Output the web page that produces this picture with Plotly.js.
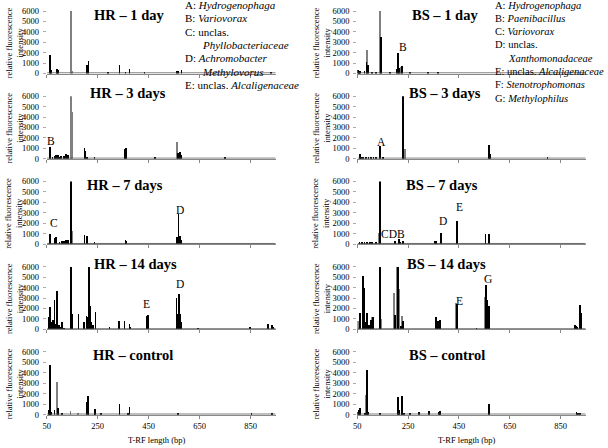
<!DOCTYPE html>
<html><head><meta charset="utf-8">
<script src="https://cdn.plot.ly/plotly-3.0.1.min.js"></script>
<style>html,body{margin:0;padding:0;background:#fff}#chart{width:608px;height:448px}</style>
</head><body><div id="chart"></div>
<script>
// ---------- data (T-RF length in bp, relative fluorescence intensity) ----------
const xTicks = [50, 250, 450, 650, 850];
const yTicks = [0, 1000, 2000, 3000, 4000, 5000, 6000];
const panelTitles = ['HR – 1 day','BS – 1 day','HR – 3 days','BS – 3 days','HR – 7 days','BS – 7 days','HR – 14 days','BS – 14 days','HR – control','BS – control'];
const baselineBp = [52, 948];
const baselineLevel = [60, 60];

const hr1BlackBp = [63, 66, 88, 92, 207.5, 212.7, 290, 335, 358, 374, 433, 558, 564, 578, 930];
const hr1BlackH  = [1750, 300, 480, 300, 800, 1200, 150, 850, 150, 400, 100, 250, 200, 300, 150];
const hr1GrayBp  = [144.5, 147];
const hr1GrayH   = [6000, 200];

const hr3BlackBp = [63, 72, 79, 85, 92, 98.6, 105, 118, 125, 131, 197, 201, 207.5, 236, 357, 361, 473, 564, 571, 577.5, 748];
const hr3BlackH  = [1150, 200, 250, 350, 300, 200, 250, 250, 400, 350, 1000, 700, 200, 100, 900, 1000, 100, 500, 600, 300, 80];
const hr3GrayBp  = [144.5, 148.4, 560.5];
const hr3GrayH   = [6000, 4500, 1550];

const hr7BlackBp = [63, 79, 85.4, 98.6, 110, 118, 125, 131, 144.5, 197, 206, 236, 358.4, 362.3, 560.5, 565.7, 571, 575];
const hr7BlackH  = [900, 500, 600, 200, 250, 300, 350, 400, 6000, 800, 700, 100, 400, 250, 600, 2800, 700, 400];
const hr7GrayBp  = [148.4];
const hr7GrayH   = [1200];

const hr14BlackBp = [59, 63, 66, 75, 79, 83, 88, 96, 102.5, 110, 118, 144.5, 147, 173.4, 194.4, 204.9, 208.8, 214, 218, 223, 230, 240.3, 295.4, 332, 354.5, 374, 378, 442.4, 446.3, 558, 561.8, 568.4, 572.3, 577.5, 643, 846.6, 916, 918.7, 934.5, 938.4];
const hr14BlackH  = [1200, 2200, 700, 900, 2800, 600, 3700, 500, 300, 700, 200, 6000, 1500, 1550, 700, 1300, 1200, 6000, 2300, 700, 500, 1700, 300, 800, 800, 600, 300, 1300, 1400, 3000, 1500, 3400, 1500, 700, 100, 250, 550, 500, 500, 300];
const hr14GrayBp  = [90.7];
const hr14GrayH   = [2800];

const hrCBlackBp = [59, 63, 67, 79, 92, 109, 204.9, 210, 212.7, 236.3, 239, 262.6, 334.8, 367.6, 374, 564, 853, 932];
const hrCBlackH  = [500, 4800, 300, 500, 700, 100, 1200, 1800, 900, 500, 600, 100, 1000, 200, 800, 200, 100, 100];
const hrCGrayBp  = [89.4, 142, 173];
const hrCGrayH   = [3100, 350, 200];

const bs1BlackBp = [54, 58, 63, 80, 87, 93, 110, 126, 143, 179, 205, 211.4, 215, 225.8, 258, 330, 369];
const bs1BlackH  = [300, 250, 200, 200, 1100, 800, 100, 100, 3500, 100, 400, 2000, 500, 700, 100, 150, 100];
const bs1GrayBp  = [90.7, 141.9, 222];
const bs1GrayH   = [2300, 6000, 600];

const bs3BlackBp = [60.5, 67, 75, 85, 95, 105, 115, 126, 141.9, 152.4, 229.8, 570, 572.3, 800];
const bs3BlackH  = [400, 150, 180, 200, 150, 200, 150, 180, 1200, 150, 6000, 1300, 400, 100];
const bs3GrayBp  = [232.4, 237.7];
const bs3GrayH   = [4800, 900];

const bs7BlackBp = [60, 70, 80, 90, 100, 110, 126, 141.9, 200, 214, 218, 231, 355.8, 362.3, 379.4, 443.7, 556, 569.7];
const bs7BlackH  = [100, 120, 150, 120, 150, 120, 150, 6000, 250, 450, 200, 300, 300, 250, 1000, 2200, 900, 900];
const bs7GrayBp  = [138];
const bs7GrayH   = [1000];

const bs14BlackBp = [60.5, 73.6, 77.6, 81.5, 86.7, 90.7, 95.9, 103.8, 113, 139.2, 141.9, 198.3, 211.4, 224.5, 232.4, 359.7, 368.9, 375.4, 443.7, 519.8, 556.5, 563.1, 568.4, 907, 910.9, 917.4, 926.6, 930.6];
const bs14BlackH  = [1600, 5100, 4000, 700, 600, 1600, 500, 900, 1200, 1100, 6000, 1400, 6000, 400, 800, 1200, 800, 900, 2500, 150, 4300, 2800, 2300, 500, 400, 300, 2400, 1600];
const bs14GrayBp  = [53.9, 110.4, 145.8, 194.4, 207.5, 214, 228.5, 438.4, 552.6];
const bs14GrayH   = [800, 1200, 1000, 3500, 6000, 3900, 1300, 2600, 3100];

const bsCBlackBp = [53.9, 57.9, 61.8, 80.2, 90.7, 93.3, 139.2, 212.7, 216.7, 228.5, 233.7, 257.3, 294.1, 333.5, 372.8, 375.4, 569.7, 913.5, 920.1, 926.6];
const bsCBlackH  = [300, 500, 700, 150, 4300, 300, 100, 1700, 500, 1800, 150, 100, 300, 350, 250, 350, 1000, 300, 200, 100];
const bsCGrayBp  = [86.7, 225.8];
const bsCGrayH   = [1900, 1700];

// peak labels: [panel index, text, bp, intensity of label centre]
const peakLabels = [
  [0,'A',144.5,6650],
  [1,'A',146,6650],[1,'B',231,2560],
  [2,'A',144.5,6850],[2,'B',66,1700],
  [3,'B',231,6900],[3,'A',146,1600],
  [4,'A',144.5,6800],[4,'C',79,2030],[4,'D',575,3290],
  [5,'A',146,6750],[5,'CDB',192,960],[5,'D',388.6,2180],[5,'E',454,3530],
  [6,'A',144.5,6950],[6,'E',442.5,2450],[6,'D',575,4360],
  [7,'A',146,6900],[7,'F',215,6950],[7,'E',454,2750],[7,'G',566,4830]
];
const legendHR = ['A: <i>Hydrogenophaga</i>','B: <i>Variovorax</i>','C: unclas.','    <i>Phyllobacteriaceae</i>','D: <i>Achromobacter</i>','    <i>Methylovorus</i>','E: unclas. <i>Alcaligenaceae</i>'];
const legendBS = ['A: <i>Hydrogenophaga</i>','B: <i>Paenibacillus</i>','C: <i>Variovorax</i>','D: unclas.','    <i>Xanthomonadaceae</i>','E: unclas. <i>Alcaligenaceae</i>','F: <i>Stenotrophomonas</i>','G: <i>Methylophilus</i>'];

const panels = [
  [hr1BlackBp, hr1BlackH, hr1GrayBp, hr1GrayH],
  [bs1BlackBp, bs1BlackH, bs1GrayBp, bs1GrayH],
  [hr3BlackBp, hr3BlackH, hr3GrayBp, hr3GrayH],
  [bs3BlackBp, bs3BlackH, bs3GrayBp, bs3GrayH],
  [hr7BlackBp, hr7BlackH, hr7GrayBp, hr7GrayH],
  [bs7BlackBp, bs7BlackH, bs7GrayBp, bs7GrayH],
  [hr14BlackBp, hr14BlackH, hr14GrayBp, hr14GrayH],
  [bs14BlackBp, bs14BlackH, bs14GrayBp, bs14GrayH],
  [hrCBlackBp, hrCBlackH, hrCGrayBp, hrCGrayH],
  [bsCBlackBp, bsCBlackH, bsCGrayBp, bsCGrayH]
];

// ---------- layout ----------
const W = 608, H = 448;
const FONT = 'Liberation Serif, Times New Roman, serif';
const colDom = [[46.7/W, 276/W], [357.3/W, 586/W]];
const rowTop = i => 11 + 85.2*i;
const rowZero = i => 73.5 + 85.3*i;

const traces = [];
const layout = {
  width: W, height: H, margin: {l:0, r:0, t:0, b:0},
  paper_bgcolor: '#fff', plot_bgcolor: 'rgba(0,0,0,0)',
  showlegend: false, barmode: 'overlay', bargap: 0,
  font: {family: FONT, color: '#000', size: 9},
  annotations: []
};

panels.forEach((p, k) => {
  const row = Math.floor(k/2), col = k % 2;
  const sfx = k === 0 ? '' : String(k+1);
  const xa = 'x'+sfx, ya = 'y'+sfx;
  traces.push({type:'scatter', mode:'lines', x: baselineBp, y: baselineLevel, xaxis: xa, yaxis: ya,
    line:{color:'#444', width:0.8}, hoverinfo:'skip'});
  traces.push({type:'bar', x: p[2], y: p[3], xaxis: xa, yaxis: ya, width: 3,
    marker:{color:'#808080', line:{width:0}}, hoverinfo:'x+y'});
  traces.push({type:'bar', x: p[0], y: p[1], xaxis: xa, yaxis: ya, width: 3,
    marker:{color:'#000', line:{width:0}}, hoverinfo:'x+y'});
  layout['xaxis'+sfx] = {
    domain: colDom[col], anchor: ya, range: [50, 950], tickvals: xTicks,
    showticklabels: row === 4, ticks: 'outside', ticklen: 3, tickcolor: '#888', tickwidth: 1,
    showline: true, linecolor: '#888', linewidth: 1, showgrid: false, zeroline: false,
    tickfont: {family: FONT, size: 8.5, color: '#000'}, fixedrange: true
  };
  layout['yaxis'+sfx] = {
    domain: [1 - rowZero(row)/H, 1 - rowTop(row)/H], anchor: xa, range: [0, 6000], tickvals: yTicks,
    ticks: 'outside', ticklen: 3, tickcolor: '#aaa', showline: false, showgrid: false, zeroline: false,
    ticklabelstandoff: 2,
    tickfont: {family: FONT, size: 8.5, color: '#000'}, fixedrange: true
  };
  // panel title
  const tx = col === 0 ? [129, 128.3, 125, 135, 133.3][row] : [445, 445, 441.7, 446.7, 446.7][row];
  const ty = [15, 93.3, 185, 264.3, 355][row];
  layout.annotations.push({xref:'paper', yref:'paper', x: tx/W, y: 1 - ty/H, xanchor:'center', yanchor:'middle',
    text: '<b>'+panelTitles[k]+'</b>', showarrow:false, font:{family: FONT, size: 14.5, color:'#000'}});
  // y title
  const yx = col === 0 ? 14 : 321;
  layout.annotations.push({xref:'paper', yref:'paper', x: yx/W, y: 1 - ((rowTop(row)+rowZero(row))/2 + 1)/H,
    xanchor:'center', yanchor:'middle', textangle: -90,
    text: 'relative fluorescence<br>intensity', showarrow:false, font:{family: FONT, size: 8.5, color:'#000'}});
});

// x axis titles
layout.annotations.push({xref:'paper', yref:'paper', x: 156.7/W, y: 1 - 439.5/H, xanchor:'center', yanchor:'middle',
  text:'T-RF length (bp)', showarrow:false, font:{family: FONT, size: 8.5}});
layout.annotations.push({xref:'paper', yref:'paper', x: 466/W, y: 1 - 439.5/H, xanchor:'center', yanchor:'middle',
  text:'T-RF length (bp)', showarrow:false, font:{family: FONT, size: 8.5}});

// peak labels
peakLabels.forEach(([k, t, bp, yv]) => {
  const sfx = k === 0 ? '' : String(k+1);
  layout.annotations.push({xref:'x'+sfx, yref:'y'+sfx, x: bp, y: yv, xanchor:'center', yanchor:'middle',
    text: t, showarrow:false, font:{family: FONT, size: 11.5, color:'#000'}});
});

// species legends
legendHR.forEach((t, i) => {
  const indent = t.startsWith('    ');
  layout.annotations.push({xref:'paper', yref:'paper', x: (indent ? 200 : 182.7)/W, y: 1 - (5 + 13.3*i)/H,
    xanchor:'left', yanchor:'middle', text: t.trim(), showarrow:false, font:{family: FONT, size: 11, color:'#000'}});
});
legendBS.forEach((t, i) => {
  const indent = t.startsWith('    ');
  layout.annotations.push({xref:'paper', yref:'paper', x: (indent ? 506 : 493)/W, y: 1 - (5 + 13.3*i)/H,
    xanchor:'left', yanchor:'middle', text: t.trim(), showarrow:false, font:{family: FONT, size: 10.5, color:'#000'}});
});

Plotly.newPlot('chart', traces, layout, {displayModeBar:false});
</script>
</body></html>
